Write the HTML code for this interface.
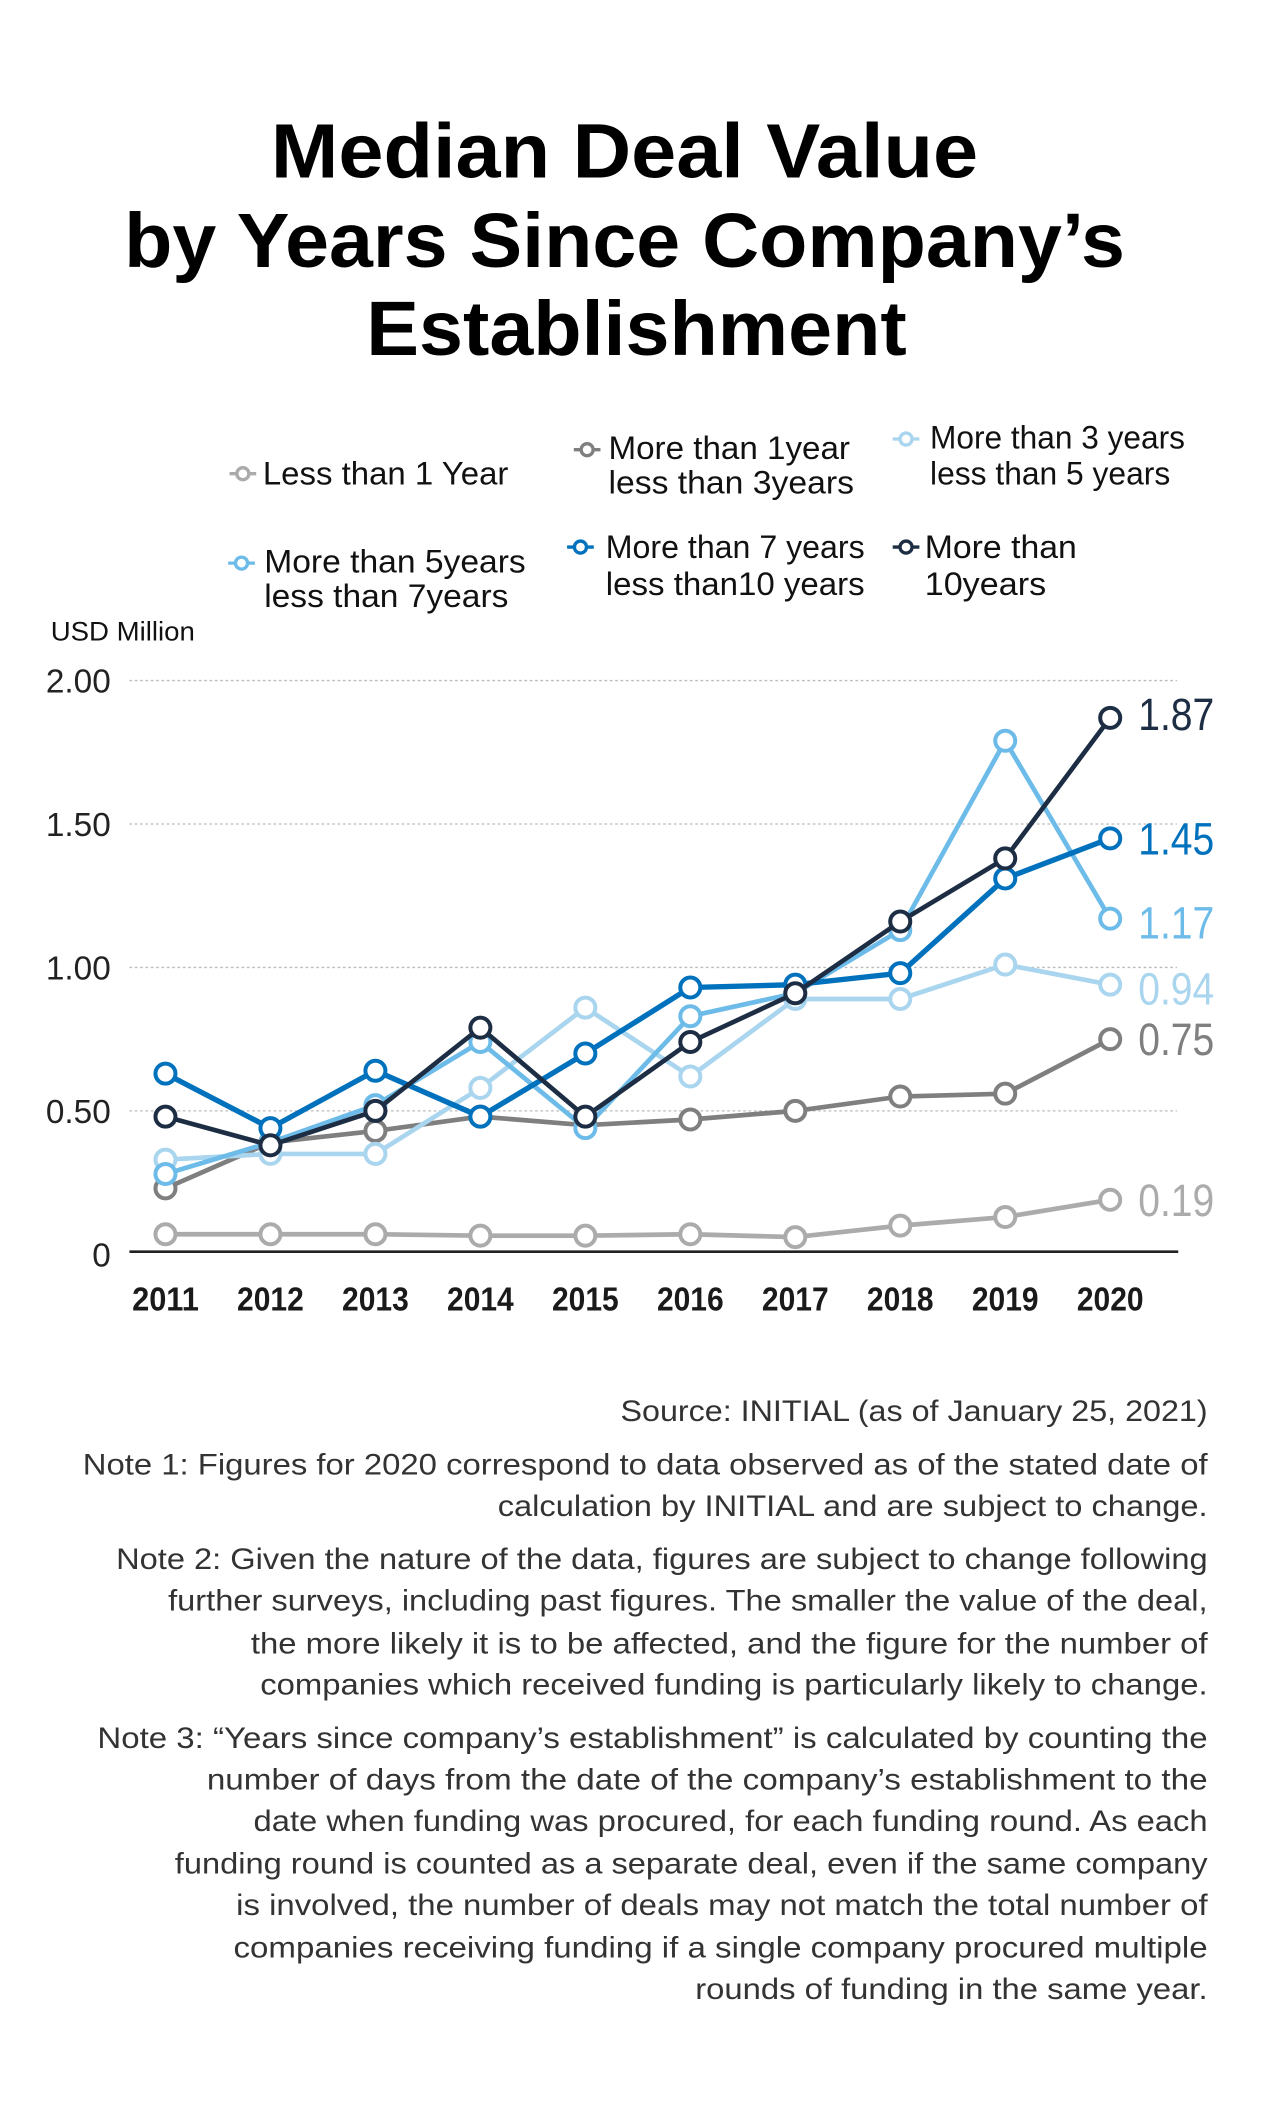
<!DOCTYPE html>
<html><head><meta charset="utf-8"><style>
html,body{margin:0;padding:0;background:#fff}
svg{display:block}
text{font-family:"Liberation Sans",sans-serif}
</style></head><body>
<svg id="chart" width="1281" height="2105" viewBox="0 0 960 1577.5" preserveAspectRatio="none" xmlns="http://www.w3.org/2000/svg">
<g font-weight="bold" fill="#000" text-anchor="middle" font-size="58">
<text x="468" y="133" textLength="530" lengthAdjust="spacingAndGlyphs">Median Deal Value</text>
<text x="468" y="200" textLength="750" lengthAdjust="spacingAndGlyphs">by Years Since Company’s</text>
<text x="477" y="266" textLength="405" lengthAdjust="spacingAndGlyphs">Establishment</text>
</g>
<g id="legend"></g>
<text x="38" y="480" font-size="20" fill="#111" textLength="108" lengthAdjust="spacingAndGlyphs">USD Million</text>
<g id="grid"></g>
<g id="series"></g>
<g font-size="22" fill="#333" text-anchor="end">
<text x="905" y="1065" textLength="440" lengthAdjust="spacingAndGlyphs">Source: INITIAL (as of January 25, 2021)</text>
<text x="905" y="1105" textLength="843" lengthAdjust="spacingAndGlyphs">Note 1: Figures for 2020 correspond to data observed as of the stated date of</text>
<text x="905" y="1136" textLength="532" lengthAdjust="spacingAndGlyphs">calculation by INITIAL and are subject to change.</text>
<text x="905" y="1176" textLength="818" lengthAdjust="spacingAndGlyphs">Note 2: Given the nature of the data, figures are subject to change following</text>
<text x="905" y="1207" textLength="779" lengthAdjust="spacingAndGlyphs">further surveys, including past figures. The smaller the value of the deal,</text>
<text x="905" y="1239" textLength="717" lengthAdjust="spacingAndGlyphs">the more likely it is to be affected, and the figure for the number of</text>
<text x="905" y="1270" textLength="710" lengthAdjust="spacingAndGlyphs">companies which received funding is particularly likely to change.</text>
<text x="905" y="1310" textLength="832" lengthAdjust="spacingAndGlyphs">Note 3: “Years since company’s establishment” is calculated by counting the</text>
<text x="905" y="1341" textLength="750" lengthAdjust="spacingAndGlyphs">number of days from the date of the company’s establishment to the</text>
<text x="905" y="1372" textLength="715" lengthAdjust="spacingAndGlyphs">date when funding was procured, for each funding round. As each</text>
<text x="905" y="1404" textLength="774" lengthAdjust="spacingAndGlyphs">funding round is counted as a separate deal, even if the same company</text>
<text x="905" y="1435" textLength="728" lengthAdjust="spacingAndGlyphs">is involved, the number of deals may not match the total number of</text>
<text x="905" y="1467" textLength="730" lengthAdjust="spacingAndGlyphs">companies receiving funding if a single company procured multiple</text>
<text x="905" y="1498" textLength="384" lengthAdjust="spacingAndGlyphs">rounds of funding in the same year.</text>
</g>
</svg>
<script>
const years = ["2011","2012","2013","2014","2015","2016","2017","2018","2019","2020"];
const yTicks = [0, 0.5, 1.0, 1.5, 2.0];
const yTickLabels = ["0","0.50","1.00","1.50","2.00"];
const seriesNames = ["Less than 1 Year","More than 1 year less than 3 years","More than 3 years less than 5 years","More than 5 years less than 7 years","More than 7 years less than 10 years","More than 10 years"];
const lessThan1 = [0.07,0.07,0.07,0.065,0.065,0.07,0.06,0.10,0.13,0.19];
const y1to3 = [0.23,0.39,0.43,0.48,0.45,0.47,0.50,0.55,0.56,0.75];
const y3to5 = [0.33,0.35,0.35,0.58,0.86,0.62,0.89,0.89,1.01,0.94];
const y5to7 = [0.28,0.39,0.52,0.74,0.44,0.83,0.91,1.13,1.79,1.17];
const y7to10 = [0.63,0.44,0.64,0.48,0.70,0.93,0.94,0.98,1.31,1.45];
const y10plus = [0.48,0.38,0.50,0.79,0.48,0.74,0.91,1.16,1.38,1.87];
const endLabels = ["0.19","0.75","0.94","1.17","1.45","1.87"];

const NS="http://www.w3.org/2000/svg";
const colors=["#ababab","#7f7f7f","#a9d5ee","#6cbbe8","#0071bc","#1d2e44"];
const widths=[3.5,3.5,3.5,3.5,4,3.5];
const labelDy=[0,0,3,3,0,-3];
const order=[0,1,2,3,4,5];
const data=[lessThan1,y1to3,y3to5,y5to7,y7to10,y10plus];
const x0=124,x1=832,yZero=940,yTop=510,vMax=2.0;
const xs=i=>x0+(x1-x0)*i/(years.length-1);
const ys=v=>yZero-(yZero-yTop)*v/vMax;
function mk(tag,attrs,parent){const e=document.createElementNS(NS,tag);for(const k in attrs)e.setAttribute(k,attrs[k]);parent.appendChild(e);return e;}

const grid=document.getElementById('grid');
yTicks.forEach((t,i)=>{
  if(t>0){const l=mk('line',{x1:97,x2:882,y1:ys(t),y2:ys(t),stroke:'#bbb','stroke-width':1,'stroke-dasharray':'2,2'},grid);
  
  }
  const tx=mk('text',{x:83,y:ys(t)+9,'text-anchor':'end','font-size':25,fill:'#222'},grid);
  
  
  tx.textContent=yTickLabels[i];
});
const ax=mk('line',{x1:97,x2:883,y1:938,y2:938,stroke:'#222','stroke-width':2},grid);


years.forEach((yr,i)=>{
  const tx=mk('text',{x:xs(i),y:982,'text-anchor':'middle','font-size':25,'font-weight':'bold',fill:'#1a1a1a',textLength:50,lengthAdjust:'spacingAndGlyphs'},grid);
  
  
  tx.textContent=yr;
});

const sg=document.getElementById('series');
order.forEach(s=>{
  const g=mk('g',{},sg);
  
  
  const pts=data[s].map((v,i)=>xs(i)+','+ys(v)).join(' ');
  mk('polyline',{points:pts,fill:'none',stroke:colors[s],'stroke-width':widths[s],'stroke-linejoin':'round'},g);
  data[s].forEach((v,i)=>{
    const c=mk('circle',{cx:xs(i),cy:ys(v),r:7.5,fill:'#fff',stroke:colors[s],'stroke-width':3},g);
    
    
  });
  const last=data[s][data[s].length-1];
  const lb=mk('text',{x:853,y:ys(last)+12+labelDy[s],'font-size':34,fill:colors[s],textLength:57,lengthAdjust:'spacingAndGlyphs'},g);
  
  
  lb.textContent=endLabels[s];
});

const leg=document.getElementById('legend');
const legItems=[
 {mx:172,my:355,tx:197,lines:["Less than 1 Year"],ly:[363],w:[184]},
 {mx:430,my:337,tx:456,lines:["More than 1year","less than 3years"],ly:[344,370],w:[181,184]},
 {mx:669,my:329,tx:697,lines:["More than 3 years","less than 5 years"],ly:[336,363],w:[191,180]},
 {mx:171,my:422,tx:198,lines:["More than 5years","less than 7years"],ly:[429,455],w:[196,183]},
 {mx:425,my:410,tx:454,lines:["More than 7 years","less than10 years"],ly:[418,446],w:[194,194]},
 {mx:669,my:410,tx:693,lines:["More than","10years"],ly:[418,446],w:[114,91]}
];
legItems.forEach((it,s)=>{
  const g=mk('g',{},leg);
  
  
  mk('line',{x1:it.mx,x2:it.mx+20,y1:it.my,y2:it.my,stroke:colors[s],'stroke-width':2.5},g);
  mk('circle',{cx:it.mx+10,cy:it.my,r:4.5,fill:'#fff',stroke:colors[s],'stroke-width':2.5},g);
  it.lines.forEach((ln,j)=>{
    const t=mk('text',{x:it.tx,y:it.ly[j],'font-size':24,fill:'#111',textLength:it.w[j],lengthAdjust:'spacingAndGlyphs'},g);
    t.textContent=ln;
  });
});
</script>
</body></html>
